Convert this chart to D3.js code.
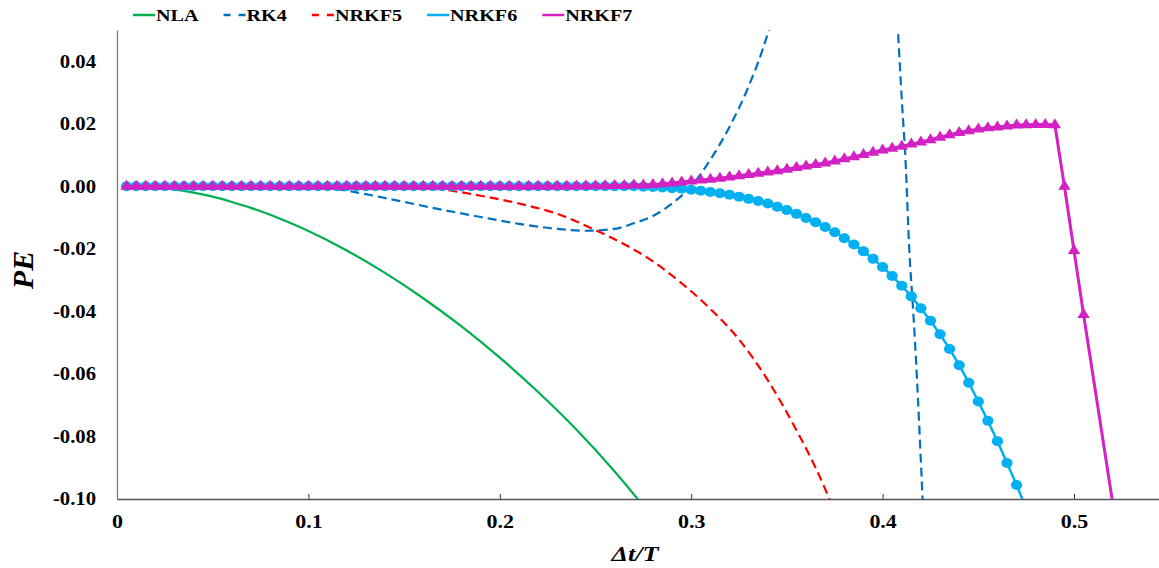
<!DOCTYPE html>
<html><head><meta charset="utf-8">
<script src="https://cdn.jsdelivr.net/npm/d3@7"></script>
<style>
body{margin:0;background:#fff;}
svg{display:block;}
text{font-family:"Liberation Serif","Times New Roman",serif;font-weight:bold;fill:#000;}
</style>
</head><body>
<svg id="c" width="1159" height="568"></svg>
<script>
// ---------- DATA ----------
const seriesNames = ["NLA", "RK4", "NRKF5", "NRKF6", "NRKF7"];
const xTicks = [0, 0.1, 0.2, 0.3, 0.4, 0.5];
const yTicks = [-0.10, -0.08, -0.06, -0.04, -0.02, 0.00, 0.02, 0.04];

const nlaDt = [0.005, 0.02, 0.03, 0.04, 0.05, 0.06, 0.07, 0.08, 0.09, 0.10, 0.12, 0.14, 0.16, 0.18, 0.20, 0.22, 0.24, 0.26, 0.28];
const nlaPE = [0, -0.0003, -0.0010, -0.0020, -0.0033, -0.0050, -0.0069, -0.0091, -0.0116, -0.0143, -0.0205, -0.0277, -0.0358, -0.0448, -0.0548, -0.0658, -0.0778, -0.0912, -0.1060];

const rk4Dt = [0.005, 0.09, 0.10, 0.11, 0.13, 0.15, 0.17, 0.19, 0.21, 0.23, 0.245, 0.26, 0.27, 0.28, 0.29, 0.30, 0.31, 0.32, 0.33, 0.34, 0.35, 0.36, 0.40, 0.408, 0.410, 0.412, 0.414, 0.416, 0.418, 0.420, 0.422];
const rk4PE = [0, 0, -0.0001, -0.0005, -0.0025, -0.0050, -0.0075, -0.0098, -0.0120, -0.0136, -0.0142, -0.0136, -0.0118, -0.0095, -0.0055, 0.0000, 0.0085, 0.0190, 0.0320, 0.0490, 0.075, 0.11, 0.11, 0.050, 0.028, 0.008, -0.021, -0.040, -0.062, -0.088, -0.115];

const nrkf5Dt = [0.005, 0.15, 0.17, 0.19, 0.21, 0.23, 0.25, 0.265, 0.28, 0.295, 0.31, 0.325, 0.34, 0.355, 0.365, 0.375];
const nrkf5PE = [0, 0, -0.0010, -0.0030, -0.0055, -0.0088, -0.0140, -0.0185, -0.0240, -0.0310, -0.0392, -0.0490, -0.0620, -0.0780, -0.0900, -0.1040];

const nrkf6Dt = [0.005,0.010,0.015,0.020,0.025,0.030,0.035,0.040,0.045,0.050,0.055,0.060,0.065,0.070,0.075,0.080,0.085,0.090,0.095,0.100,
  0.105,0.110,0.115,0.120,0.125,0.130,0.135,0.140,0.145,0.150,0.155,0.160,0.165,0.170,0.175,0.180,0.185,0.190,0.195,0.200,
  0.205,0.210,0.215,0.220,0.225,0.230,0.235,0.240,0.245,0.250,0.255,0.260,0.265,0.270,0.275,0.280,0.285,0.290,0.295,0.300,
  0.305,0.310,0.315,0.320,0.325,0.330,0.335,0.340,0.345,0.350,0.355,0.360,0.365,0.370,0.375,0.380,0.385,0.390,0.395,0.400,
  0.405,0.410,0.415,0.420,0.425,0.430,0.435,0.440,0.445,0.450,0.455,0.460,0.465,0.470,0.475];
const nrkf6PE = [0,0,0,0,0,0,0,0,0,0,0,0,0,0,0,0,0,0,0,0,
  0,0,0,0,0,0,0,0,0,0,0,0,0,0,0,0,0,0,0,0,
  0,0,0,0,0,0,0,0,0,0,0,0,0,0,-0.0001,-0.0002,-0.0004,-0.0006,-0.0008,-0.0011,
  -0.0014,-0.0018,-0.0022,-0.0027,-0.0033,-0.0040,-0.0047,-0.0055,-0.0065,-0.0076,-0.0088,-0.0101,-0.0115,-0.0130,-0.0147,-0.0166,-0.0186,-0.0208,-0.0232,-0.0258,
  -0.0287,-0.0318,-0.0352,-0.0390,-0.0430,-0.0473,-0.0520,-0.0572,-0.0628,-0.0688,-0.0750,-0.0815,-0.0885,-0.0955,-0.1030];

const nrkf7Dt = [0.005,0.010,0.015,0.020,0.025,0.030,0.035,0.040,0.045,0.050,0.055,0.060,0.065,0.070,0.075,0.080,0.085,0.090,0.095,0.100,
  0.105,0.110,0.115,0.120,0.125,0.130,0.135,0.140,0.145,0.150,0.155,0.160,0.165,0.170,0.175,0.180,0.185,0.190,0.195,0.200,
  0.205,0.210,0.215,0.220,0.225,0.230,0.235,0.240,0.245,0.250,0.255,0.260,0.265,0.270,0.275,0.280,0.285,0.290,0.295,0.300,
  0.305,0.310,0.315,0.320,0.325,0.330,0.335,0.340,0.345,0.350,0.355,0.360,0.365,0.370,0.375,0.380,0.385,0.390,0.395,0.400,
  0.405,0.410,0.415,0.420,0.425,0.430,0.435,0.440,0.445,0.450,0.455,0.460,0.465,0.470,0.475,0.480,0.485,0.490,0.495,0.500,
  0.505,0.530];
const nrkf7PE = [0,0,0,0,0,0,0,0,0,0,0,0,0,0,0,0,0,0,0,0,
  0,0,0,0,0,0,0,0,0,0,0,0,0,0,0,0,0,0,0,0,
  0,0,0,0,0,0,0,0.0001,0.0001,0.0002,0.0002,0.0003,0.0003,0.0004,0.0004,0.0006,0.0008,0.0011,0.0014,0.0017,
  0.0020,0.0023,0.0026,0.0030,0.0034,0.0038,0.0042,0.0046,0.0050,0.0055,0.0060,0.0065,0.0070,0.0075,0.0081,0.0088,0.0095,0.0102,0.0109,0.0116,
  0.0122,0.0128,0.0135,0.0142,0.0149,0.0157,0.0165,0.0172,0.0178,0.0183,0.0187,0.0190,0.0193,0.0196,0.0197,0.0198,0.0198,0.0197,0.0000,-0.0205,
  -0.0410,-0.1400];
// markers are shown only for the tabulated step points (not the trailing point)
const nrkf7MarkerCount = 101;

// ---------- STYLE ----------
const colors = {NLA:"#00b050", RK4:"#0070c0", NRKF5:"#ff0000", NRKF6:"#00b0f0", NRKF7:"#d321c3"};
const TX = 1.22; // horizontal glyph stretch of the reference text

const svg = d3.select("#c");
const x = d3.scaleLinear().domain([0, 0.55]).range([117, 117 + 0.55 * 1914]);
const y = d3.scaleLinear().domain([-0.10, 0.05]).range([499, 30]);

function stretch(sel, k) {
  sel.each(function () {
    const t = d3.select(this);
    const x0 = +t.attr("x") || 0;
    t.attr("transform", `translate(${x0},0) scale(${k},1) translate(${-x0},0)`);
  });
}

svg.append("defs").append("clipPath").attr("id", "plot")
  .append("rect").attr("x", 117).attr("y", 30).attr("width", 1159 - 117).attr("height", 469);

// axes
const gx = svg.append("g").attr("transform", "translate(0,499)")
  .call(d3.axisBottom(x).tickValues(xTicks).tickFormat(d => d === 0 ? "0" : d.toFixed(1))
    .tickSizeInner(-5).tickSizeOuter(0).tickPadding(16));
gx.select(".domain").attr("stroke", "#555").attr("stroke-width", 1.3);
gx.selectAll(".tick line").attr("stroke", "#333");
gx.selectAll("text").attr("font-size", 18).attr("font-family", null);
stretch(gx.selectAll("text"), TX);

const gy = svg.append("g").attr("transform", "translate(117,0)")
  .call(d3.axisLeft(y).tickValues(yTicks).tickFormat(d => d.toFixed(2)).tickSize(0).tickPadding(21));
gy.select(".domain").attr("stroke", "#777").attr("stroke-width", 1.3);
gy.selectAll("text").attr("font-size", 18).attr("font-family", null);
stretch(gy.selectAll("text"), 1.15);

// axis titles
const xt = svg.append("text").attr("x", 635).attr("y", 561).attr("text-anchor", "middle")
  .attr("font-size", 21).attr("font-style", "italic").text("Δt/T");
stretch(xt, 1.25);
svg.append("text").attr("transform", "translate(33,270) rotate(-90)").attr("text-anchor", "middle")
  .attr("font-size", 30).attr("font-style", "italic").text("PE");

// series
const plot = svg.append("g").attr("clip-path", "url(#plot)");
const zip = (a, b) => a.map((d, i) => [d, b[i]]);
const smooth = d3.line().x(d => x(d[0])).y(d => y(d[1])).curve(d3.curveMonotoneX);
const straight = d3.line().x(d => x(d[0])).y(d => y(d[1]));

plot.append("path").datum(zip(nlaDt, nlaPE)).attr("d", smooth)
  .attr("fill", "none").attr("stroke", colors.NLA).attr("stroke-width", 2.2);
plot.append("path").datum(zip(rk4Dt, rk4PE)).attr("d", smooth)
  .attr("fill", "none").attr("stroke", colors.RK4).attr("stroke-width", 2.2).attr("stroke-dasharray", "9,5");
plot.append("path").datum(zip(nrkf5Dt, nrkf5PE)).attr("d", smooth)
  .attr("fill", "none").attr("stroke", colors.NRKF5).attr("stroke-width", 2.2).attr("stroke-dasharray", "9,5");

const d6 = zip(nrkf6Dt, nrkf6PE);
plot.append("path").datum(d6).attr("d", straight)
  .attr("fill", "none").attr("stroke", colors.NRKF6).attr("stroke-width", 2.5);
plot.selectAll(".m6").data(d6.filter(d => d[1] >= -0.1)).join("ellipse")
  .attr("cx", d => x(d[0])).attr("cy", d => y(d[1])).attr("rx", 5.6).attr("ry", 5).attr("fill", colors.NRKF6);

const d7 = zip(nrkf7Dt, nrkf7PE);
plot.append("path").datum(d7).attr("d", straight)
  .attr("fill", "none").attr("stroke", colors.NRKF7).attr("stroke-width", 3);
const triPath = "M0,-6.5L6.2,3.5L-6.2,3.5Z";
plot.selectAll(".m7").data(d7.slice(0, nrkf7MarkerCount).filter(d => d[1] >= -0.1)).join("path")
  .attr("d", triPath).attr("transform", d => `translate(${x(d[0])},${y(d[1])})`).attr("fill", colors.NRKF7);

// legend
const dashes = {NLA: null, RK4: "7,8", NRKF5: "7,8", NRKF6: null, NRKF7: null};
let lx = 133;
seriesNames.forEach(name => {
  const g = svg.append("g").attr("transform", `translate(${lx},15)`);
  g.append("line").attr("x1", 0).attr("x2", 22).attr("y1", 0).attr("y2", 0)
    .attr("stroke", colors[name]).attr("stroke-width", 2.5).attr("stroke-dasharray", dashes[name]);
  const t = g.append("text").attr("x", 23).attr("y", 6).attr("font-size", 16).text(name);
  const w = t.node().getComputedTextLength() * 1.26;
  stretch(t, 1.26);
  lx += 23 + w + 25;
});
</script>
</body></html>
